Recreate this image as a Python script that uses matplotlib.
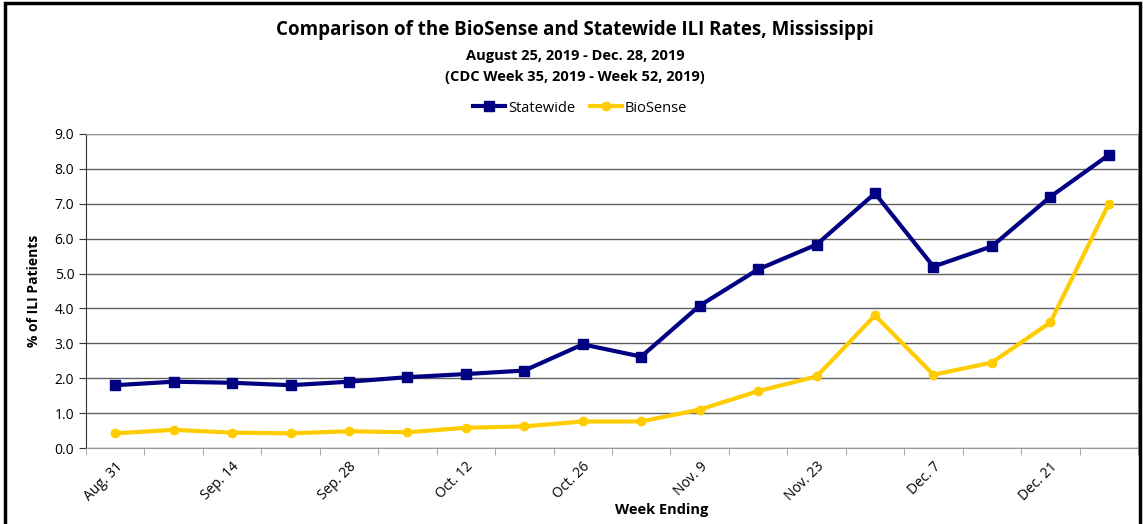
import matplotlib
matplotlib.use("Agg")
import matplotlib.pyplot as plt
from matplotlib.patches import Rectangle
import numpy as np

# week ending dates (CDC week 35 - 52, 2019)
WEEKS = ["Aug. 31", "Sep. 7", "Sep. 14", "Sep. 21", "Sep. 28", "Oct. 5", "Oct. 12", "Oct. 19",
         "Oct. 26", "Nov. 2", "Nov. 9", "Nov. 16", "Nov. 23", "Nov. 30", "Dec. 7", "Dec. 14",
         "Dec. 21", "Dec. 28"]
STATEWIDE = [1.80, 1.90, 1.87, 1.80, 1.90, 2.03, 2.12, 2.22, 2.97, 2.62, 4.08, 5.12, 5.83,
             7.30, 5.20, 5.78, 7.20, 8.40]
BIOSENSE = [0.42, 0.52, 0.44, 0.42, 0.48, 0.45, 0.58, 0.62, 0.76, 0.76, 1.10, 1.63, 2.05,
            3.80, 2.10, 2.45, 3.60, 7.00]
Y_TICKS = [0, 1, 2, 3, 4, 5, 6, 7, 8, 9]

NAVY = "#000080"; GOLD = "#FFCC00"; INK = "#000000"; GRID = "#606060"
plt.rcParams["font.family"] = ["Open Sans", "DejaVu Sans"]

fig = plt.figure(figsize=(11.43, 5.24), dpi=100)
ax = fig.add_axes([86/1143, 1 - 448/524, (1138-86)/1143, (448-134)/524])

x = np.arange(len(WEEKS))
ax.plot(x, STATEWIDE, color=NAVY, lw=3, marker="s", ms=6.5, label="Statewide", zorder=3)
ax.plot(x, BIOSENSE, color=GOLD, lw=3, marker="o", ms=6, label="BioSense", zorder=3)

ax.set_xlim(-0.5, len(WEEKS) - 0.5)
ax.set_ylim(0, 9)
ax.set_yticks(Y_TICKS)
ax.set_yticklabels([f"{v:.1f}" for v in Y_TICKS], fontsize=10)
ax.yaxis.grid(True, color=GRID, lw=1)
ax.set_axisbelow(True)

ax.set_xticks(x[::2])
ax.set_xticklabels(WEEKS[::2], rotation=45, ha="right", rotation_mode="anchor", fontsize=10)
ax.tick_params(axis="x", which="major", length=0, pad=8)
ax.set_xticks(np.arange(-0.5, len(WEEKS)), minor=True)
ax.tick_params(axis="x", which="minor", length=5, color="#999999")
ax.tick_params(axis="y", length=5, color="#333333")
for sp in ["top", "right", "bottom"]:
    ax.spines[sp].set_color("#999999")
ax.spines["left"].set_color("#333333")

ax.set_ylabel("% of ILI Patients", fontsize=10, fontweight="bold", labelpad=10)
fig.text(662/1143, 1 - 510/524, "Week Ending", ha="center", va="center",
         fontsize=10.5, fontweight="bold")

fig.text(575/1143, 1 - 30/524, "Comparison of the BioSense and Statewide ILI Rates, Mississippi",
         ha="center", va="center", fontsize=13.5, fontweight="bold")
fig.text(575/1143, 1 - 56/524, "August 25, 2019 - Dec. 28, 2019",
         ha="center", va="center", fontsize=10.5, fontweight="bold")
fig.text(575/1143, 1 - 77/524, "(CDC Week 35, 2019 - Week 52, 2019)",
         ha="center", va="center", fontsize=10.5, fontweight="bold")

fig.legend(loc="center", bbox_to_anchor=(580/1143, 1 - 108/524), ncol=2, frameon=False,
           fontsize=10.5, handlelength=2.2, handletextpad=0.2, columnspacing=1.0)

fig.patches.append(Rectangle((5/1143, -0.02), 1135/1143, 1.015, transform=fig.transFigure,
                             fill=False, ec=INK, lw=2.5))

fig.savefig("out.png", dpi=100, facecolor="white")
